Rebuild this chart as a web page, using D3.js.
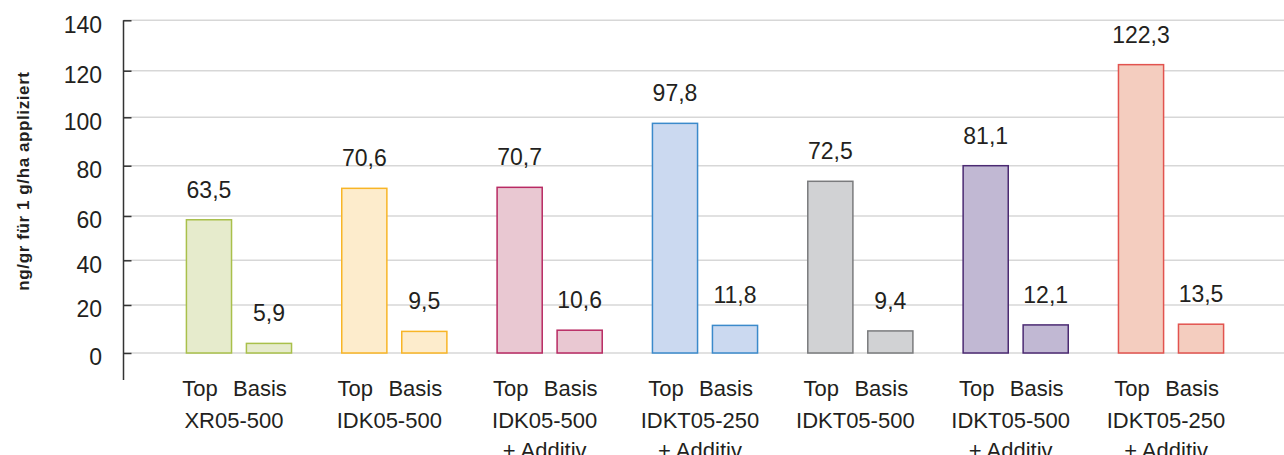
<!DOCTYPE html>
<html>
<head>
<meta charset="utf-8">
<script src="https://cdn.jsdelivr.net/npm/d3@7"></script>
<style>
  html, body { margin: 0; padding: 0; background: #fff; }
  svg { display: block; }
  text { font-family: "Liberation Sans", Arial, Helvetica, sans-serif; fill: #231f20; }
</style>
</head>
<body>
<svg id="chart" width="1284" height="455"></svg>
<script>
// ---- data ----
const groupLine1 = ["XR05-500", "IDK05-500", "IDK05-500", "IDKT05-250", "IDKT05-500", "IDKT05-500", "IDKT05-250"];
const groupLine2 = ["", "", "+ Additiv", "+ Additiv", "", "+ Additiv", "+ Additiv"];
const subCategories = ["Top", "Basis"];
const topValues   = [58.3, 71.0, 71.4, 97.5, 73.8, 80.0, 122.4];
const basisValues = [4.0, 9.0, 9.5, 11.5, 9.2, 11.7, 12.0];
const topLabels   = ["63,5", "70,6", "70,7", "97,8", "72,5", "81,1", "122,3"];
const basisLabels = ["5,9", "9,5", "10,6", "11,8", "9,4", "12,1", "13,5"];
const yTicks = [0, 20, 40, 60, 80, 100, 120, 140];
const yTitle = "ng/gr für 1 g/ha appliziert";
const fillColors   = ["#e6ebcc", "#fdeccc", "#e9c8d2", "#cbd9f0", "#d1d2d4", "#c1b8d3", "#f4cdbf"];
const strokeColors = ["#a9c04b", "#f8b526", "#b82a63", "#3b8acb", "#7a7b7d", "#4b2a72", "#e2534f"];

// ---- layout ----
const svg = d3.select("#chart");
const axisX = 123.5;

const x = d3.scaleBand()
  .domain(d3.range(groupLine1.length))
  .range([161.3, 1248.7])
  .padding(0);

const xInner = d3.scaleBand()
  .domain(subCategories)
  .range([0, x.bandwidth()])
  .paddingInner(0.223)
  .paddingOuter(0.406);

// value axis as drawn in the original (gridlines slightly unevenly spaced)
const y = d3.scaleLinear()
  .domain(yTicks)
  .range([353, 305, 260.3, 216, 165.7, 117.3, 70.7, 20.3]);

// gridlines
svg.append("g")
  .selectAll("line")
  .data(yTicks)
  .join("line")
  .attr("x1", axisX)
  .attr("x2", 1284)
  .attr("y1", d => y(d))
  .attr("y2", d => y(d))
  .attr("stroke", "#d7d7d7")
  .attr("stroke-width", 1.6);

// y axis
const yAxis = d3.axisLeft(y).tickValues(yTicks).tickSize(0).tickPadding(0).tickFormat(d3.format("d"));
const gy = svg.append("g").attr("transform", `translate(${axisX},0)`).call(yAxis);
gy.select(".domain").remove();
gy.selectAll(".tick text")
  .attr("x", -21.5)
  .attr("dy", "0.52em")
  .style("font-size", "23px")
  .style("font-family", "'Liberation Sans', Arial, sans-serif")
  .attr("fill", "#231f20");
gy.selectAll(".tick").append("line")
  .attr("x1", 0).attr("x2", 8)
  .attr("stroke", "#333").attr("stroke-width", 1.5);

svg.append("line")
  .attr("x1", axisX).attr("x2", axisX)
  .attr("y1", y(140)).attr("y2", 380)
  .attr("stroke", "#333").attr("stroke-width", 1.5);

// y title
svg.append("text")
  .attr("transform", `translate(29,${181}) rotate(-90)`)
  .attr("text-anchor", "middle")
  .style("font-size", "17px")
  .style("font-weight", "bold")
  .style("letter-spacing", "0.6px")
  .text(yTitle);

// bars
const rows = [];
groupLine1.forEach((g, i) => {
  rows.push({ i, sub: "Top", v: topValues[i], label: topLabels[i] });
  rows.push({ i, sub: "Basis", v: basisValues[i], label: basisLabels[i] });
});

const sw = 1.5;
svg.append("g")
  .selectAll("rect")
  .data(rows)
  .join("rect")
  .attr("x", d => x(d.i) + xInner(d.sub) + sw / 2)
  .attr("width", xInner.bandwidth() - sw)
  .attr("y", d => y(d.v))
  .attr("height", d => y(0) - y(d.v))
  .attr("fill", d => fillColors[d.i])
  .attr("stroke", d => strokeColors[d.i])
  .attr("stroke-width", sw);

// value labels
svg.append("g")
  .selectAll("text")
  .data(rows)
  .join("text")
  .attr("x", d => x(d.i) + xInner(d.sub) + xInner.bandwidth() / 2)
  .attr("y", d => y(d.v) - 22)
  .attr("text-anchor", "middle")
  .style("font-size", "23px")
  .text(d => d.label);

// sub-category labels
svg.append("g")
  .selectAll("text")
  .data(rows)
  .join("text")
  .attr("x", d => x(d.i) + xInner(d.sub) + xInner.bandwidth() / 2 - 9)
  .attr("y", 395.5)
  .attr("text-anchor", "middle")
  .style("font-size", "22px")
  .text(d => d.sub);

// group labels
const gl = svg.append("g")
  .selectAll("text")
  .data(groupLine1.map((g, i) => i))
  .join("text")
  .attr("x", i => x(i) + x.bandwidth() / 2 - 5)
  .attr("y", 427.5)
  .attr("text-anchor", "middle")
  .style("font-size", "22px");
gl.append("tspan").text(i => groupLine1[i]);
gl.append("tspan")
  .attr("x", i => x(i) + x.bandwidth() / 2 - 5)
  .attr("dy", 30)
  .text(i => groupLine2[i]);
</script>
</body>
</html>
